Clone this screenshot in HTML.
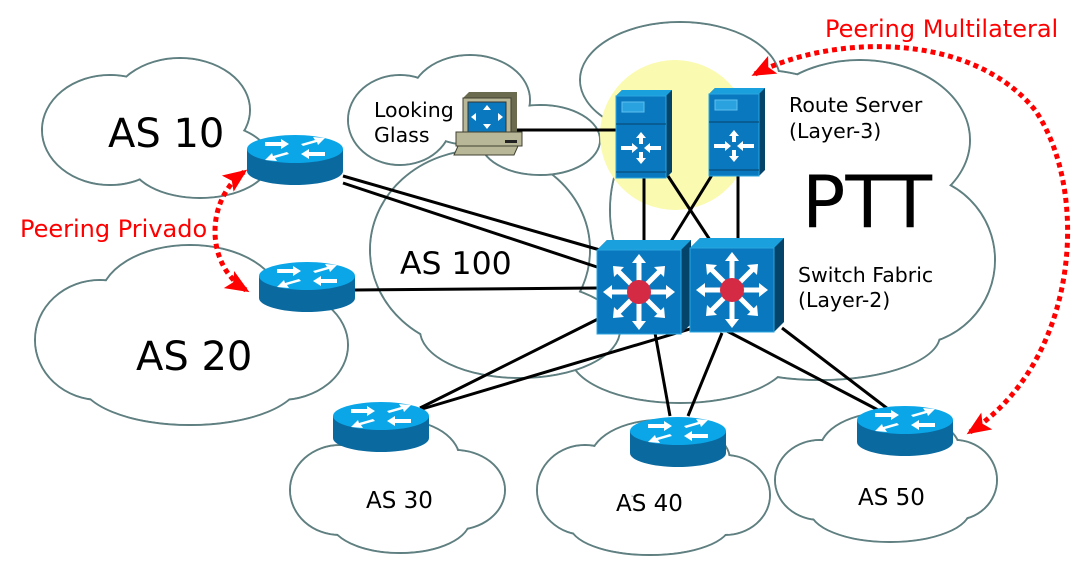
<!DOCTYPE html>
<html><head><meta charset="utf-8"><style>
html,body{margin:0;padding:0;background:#fff}
svg{display:block}
text{font-family:"DejaVu Sans","Liberation Sans",sans-serif}
</style></head><body>
<svg width="1082" height="564" viewBox="0 0 1082 564" xmlns="http://www.w3.org/2000/svg">
<defs>
<g id="router">
  <path d="M-48,0 v22 a48,14 0 0 0 96,0 v-22 z" fill="#0a6aa0"/>
  <ellipse cx="0" cy="0" rx="48" ry="14" fill="#0aa6e8"/>
  <g fill="#fff">
    <path d="M-30,-7 l16,0 l0,-3 l8,5 l-8,5 l0,-3 l-16,0z"/>
    <path d="M30,7 l-16,0 l0,3 l-8,-5 l8,-5 l0,3 l16,0z"/>
    <path d="M6,-5 l14,-4 l-2,-3 l12,1 l-7,7 l-1,-3 l-14,4z"/>
    <path d="M-6,5 l-14,4 l2,3 l-12,-1 l7,-7 l1,3 l14,-4z"/>
  </g>
</g>
<g id="server">
  <path d="M0,6 l6,-6 h50 v82 l-6,6z" fill="#05446a"/>
  <path d="M0,6 l6,-6 h50 l-6,6z" fill="#1aa0dc"/>
  <rect x="0" y="6" width="50" height="82" fill="#0a78be" stroke="#29a6e0" stroke-width="1"/>
  <rect x="6" y="12" width="22" height="10" fill="#2aa2e0" stroke="#5cc0f0"/>
  <line x1="0" y1="34" x2="50" y2="34" stroke="#05446a"/>
  <line x1="0" y1="82" x2="50" y2="82" stroke="#05446a"/>
  <g fill="#fff">
    <path d="M25,42 l5,6 h-3 v6 h-4 v-6 h-3z"/>
    <path d="M25,74 l5,-6 h-3 v-6 h-4 v6 h-3z"/>
    <path d="M5,56 h11 v-3 l6,5 l-6,5 v-3 h-11z"/>
    <path d="M45,56 h-11 v-3 l-6,5 l6,5 v-3 h11z"/>
  </g>
</g>
<g id="switch">
  <path d="M0,10 l10,-10 h84 v84 l-10,10z" fill="#05446a"/>
  <path d="M0,10 l10,-10 h84 l-10,10z" fill="#1aa0dc"/>
  <rect x="0" y="10" width="84" height="84" fill="#0a78be" stroke="#29a6e0"/>
  <g stroke="#fff" stroke-width="5">
    <line x1="42" y1="52" x2="42" y2="20"/><line x1="42" y1="52" x2="42" y2="84"/>
    <line x1="42" y1="52" x2="10" y2="52"/><line x1="42" y1="52" x2="74" y2="52"/>
    <line x1="42" y1="52" x2="20" y2="30"/><line x1="42" y1="52" x2="64" y2="30"/>
    <line x1="42" y1="52" x2="20" y2="74"/><line x1="42" y1="52" x2="64" y2="74"/>
  </g>
  <g fill="#fff">
    <path d="M42,14 l7,9 h-14z"/><path d="M42,90 l7,-9 h-14z"/>
    <path d="M6,52 l9,-7 v14z"/><path d="M78,52 l-9,-7 v14z"/>
    <path d="M16,26 l11,1 l-10,10z"/><path d="M68,26 l-11,1 l10,10z"/>
    <path d="M16,78 l11,-1 l-10,-10z"/><path d="M68,78 l-11,-1 l10,-10z"/>
  </g>
  <circle cx="42" cy="52" r="12" fill="#d42a44"/>
</g>
<marker id="ah" markerWidth="24" markerHeight="20" refX="20" refY="10" orient="auto-start-reverse" markerUnits="userSpaceOnUse"><path d="M0,0 L24,10 L0,20 L5,10z" fill="#f00"/></marker>
</defs>

<g stroke="#5f7f80" stroke-width="2">
  <!-- PTT -->
  <g fill="#fff">
    <ellipse cx="680" cy="80" rx="100" ry="58"/><ellipse cx="860" cy="140" rx="110" ry="80"/>
    <ellipse cx="910" cy="260" rx="85" ry="85"/><ellipse cx="820" cy="335" rx="120" ry="45"/>
    <ellipse cx="680" cy="355" rx="110" ry="48"/><ellipse cx="760" cy="210" rx="150" ry="140"/>
  </g>
  <g fill="#fff" stroke="none">
    <ellipse cx="680" cy="80" rx="99" ry="57"/><ellipse cx="860" cy="140" rx="109" ry="79"/>
    <ellipse cx="910" cy="260" rx="84" ry="84"/><ellipse cx="820" cy="335" rx="119" ry="44"/>
    <ellipse cx="680" cy="355" rx="109" ry="47"/><ellipse cx="760" cy="210" rx="149" ry="139"/>
  </g>
  <!-- AS100 -->
  <g fill="#fff">
    <ellipse cx="480" cy="250" rx="110" ry="100"/><ellipse cx="520" cy="330" rx="100" ry="48"/>
  </g>
  <g fill="#fff" stroke="none">
    <ellipse cx="480" cy="250" rx="109" ry="99"/><ellipse cx="520" cy="330" rx="99" ry="47"/>
  </g>
  <!-- LG -->
  <g fill="#fff">
    <ellipse cx="400" cy="120" rx="52" ry="45"/><ellipse cx="470" cy="100" rx="60" ry="45"/><ellipse cx="540" cy="140" rx="60" ry="35"/>
  </g>
  <g fill="#fff" stroke="none">
    <ellipse cx="400" cy="120" rx="51" ry="44"/><ellipse cx="470" cy="100" rx="59" ry="44"/><ellipse cx="540" cy="140" rx="59" ry="34"/>
  </g>
  <!-- AS10 -->
  <g fill="#fff">
    <ellipse cx="110" cy="130" rx="68" ry="55"/><ellipse cx="180" cy="110" rx="70" ry="52"/><ellipse cx="200" cy="160" rx="70" ry="38"/>
  </g>
  <g fill="#fff" stroke="none">
    <ellipse cx="110" cy="130" rx="67" ry="54"/><ellipse cx="180" cy="110" rx="69" ry="51"/><ellipse cx="200" cy="160" rx="69" ry="37"/>
  </g>
  <!-- AS20 -->
  <g fill="#fff">
    <ellipse cx="100" cy="340" rx="65" ry="60"/><ellipse cx="190" cy="300" rx="90" ry="55"/><ellipse cx="280" cy="345" rx="68" ry="55"/><ellipse cx="190" cy="380" rx="110" ry="45"/>
  </g>
  <g fill="#fff" stroke="none">
    <ellipse cx="100" cy="340" rx="64" ry="59"/><ellipse cx="190" cy="300" rx="89" ry="54"/><ellipse cx="280" cy="345" rx="67" ry="54"/><ellipse cx="190" cy="380" rx="109" ry="44"/>
  </g>
  <!-- AS30 -->
  <g fill="#fff">
    <ellipse cx="340" cy="490" rx="50" ry="45"/><ellipse cx="400" cy="460" rx="60" ry="40"/><ellipse cx="455" cy="490" rx="50" ry="40"/><ellipse cx="400" cy="520" rx="70" ry="33"/>
  </g>
  <g fill="#fff" stroke="none">
    <ellipse cx="340" cy="490" rx="49" ry="44"/><ellipse cx="400" cy="460" rx="59" ry="39"/><ellipse cx="455" cy="490" rx="49" ry="39"/><ellipse cx="400" cy="520" rx="69" ry="32"/>
  </g>
  <!-- AS40 -->
  <g fill="#fff">
    <ellipse cx="585" cy="490" rx="48" ry="45"/><ellipse cx="660" cy="460" rx="70" ry="40"/><ellipse cx="725" cy="495" rx="45" ry="40"/><ellipse cx="650" cy="525" rx="80" ry="30"/>
  </g>
  <g fill="#fff" stroke="none">
    <ellipse cx="585" cy="490" rx="47" ry="44"/><ellipse cx="660" cy="460" rx="69" ry="39"/><ellipse cx="725" cy="495" rx="44" ry="39"/><ellipse cx="650" cy="525" rx="79" ry="29"/>
  </g>
  <!-- AS50 -->
  <g fill="#fff">
    <ellipse cx="820" cy="480" rx="45" ry="40"/><ellipse cx="890" cy="450" rx="70" ry="38"/><ellipse cx="955" cy="480" rx="42" ry="40"/><ellipse cx="890" cy="510" rx="80" ry="32"/>
  </g>
  <g fill="#fff" stroke="none">
    <ellipse cx="820" cy="480" rx="44" ry="39"/><ellipse cx="890" cy="450" rx="69" ry="37"/><ellipse cx="955" cy="480" rx="41" ry="39"/><ellipse cx="890" cy="510" rx="79" ry="31"/>
  </g>
</g>

<circle cx="675" cy="135" r="75" fill="#fafab0"/>

<g stroke="#000" stroke-width="3" fill="none">
  <line x1="515" y1="130" x2="616" y2="130"/>
  <line x1="343" y1="176" x2="600" y2="250"/>
  <line x1="343" y1="183" x2="600" y2="268"/>
  <line x1="355" y1="290" x2="598" y2="288"/>
  <line x1="420" y1="408" x2="600" y2="318"/>
  <line x1="412" y1="412" x2="700" y2="326"/>
  <line x1="670" y1="416" x2="655" y2="333"/>
  <line x1="688" y1="416" x2="722" y2="333"/>
  <line x1="880" y1="411" x2="725" y2="330"/>
  <line x1="888" y1="409" x2="782" y2="328"/>
  <line x1="644" y1="178" x2="644" y2="243"/>
  <line x1="668" y1="176" x2="710" y2="240"/>
  <line x1="712" y1="175" x2="670" y2="243"/>
  <line x1="738" y1="176" x2="738" y2="240"/>
</g>

<use href="#router" x="295" y="149"/>
<use href="#router" x="307" y="276"/>
<use href="#router" x="381" y="416"/>
<use href="#router" x="678" y="431"/>
<use href="#router" x="905" y="420"/>
<use href="#server" x="616" y="90"/>
<use href="#server" x="709" y="88"/>
<use href="#switch" x="597" y="240"/>
<use href="#switch" x="690" y="238"/>

<g>
  <path d="M463,98 l6,-6 h48 v42 l-6,6z" fill="#6b6b50"/>
  <rect x="463" y="98" width="48" height="42" fill="#b8b898" stroke="#404030"/>
  <rect x="468" y="102" width="38" height="30" fill="#0a78be" stroke="#333"/>
  <g fill="#fff"><path d="M487,105 l4,5 h-8z"/><path d="M487,129 l4,-5 h-8z"/><path d="M471,117 l5,-4 v8z"/><path d="M503,117 l-5,-4 v8z"/></g>
  <path d="M456,132 h66 v14 h-66z" fill="#b8b898" stroke="#404030"/>
  <rect x="505" y="140" width="12" height="3" fill="#222"/>
  <path d="M458,146 h60 l-4,9 h-60z" fill="#b8b898" stroke="#404030"/>
</g>

<g stroke="#f00" stroke-width="5" stroke-dasharray="5,4" fill="none">
  <path d="M244,172 C205,200 205,265 246,290" marker-start="url(#ah)" marker-end="url(#ah)"/>
  <path d="M755,74 C830,35 970,30 1035,110 C1090,190 1080,360 970,432" marker-start="url(#ah)" marker-end="url(#ah)"/>
</g>

<g fill="#000">
  <text x="108" y="147" font-size="40">AS 10</text>
  <text x="136" y="370" font-size="40">AS 20</text>
  <text x="400" y="274" font-size="31.5">AS 100</text>
  <text x="802" y="227" font-size="72">PTT</text>
  <text x="374" y="117" font-size="20.5">Looking</text>
  <text x="374" y="142" font-size="20.5">Glass</text>
  <text x="789" y="112" font-size="20.5">Route Server</text>
  <text x="789" y="138" font-size="20.5">(Layer-3)</text>
  <text x="798" y="282" font-size="20.5">Switch Fabric</text>
  <text x="798" y="307" font-size="20.5">(Layer-2)</text>
  <text x="366" y="508" font-size="23">AS 30</text>
  <text x="616" y="511" font-size="23">AS 40</text>
  <text x="858" y="505" font-size="23">AS 50</text>
</g>
<g fill="#f00" font-size="24">
  <text x="20" y="237">Peering Privado</text>
  <text x="825" y="37">Peering Multilateral</text>
</g>
</svg>
</body></html>
